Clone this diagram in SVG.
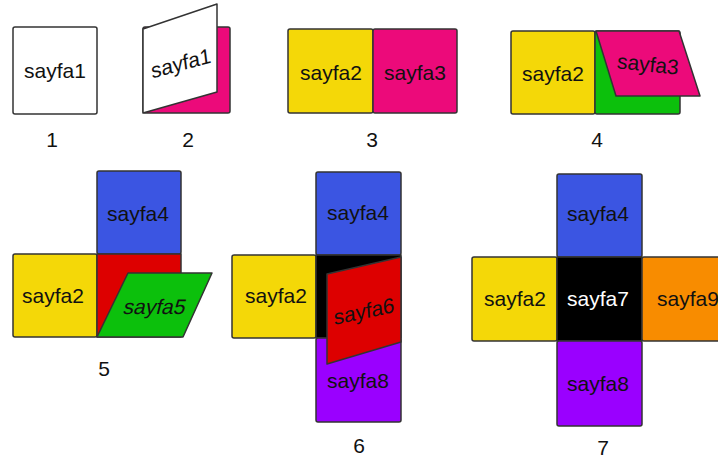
<svg xmlns="http://www.w3.org/2000/svg" width="718" height="462" viewBox="0 0 718 462">
<style>
.pg{stroke:#333;stroke-width:1.5;stroke-linejoin:round}
.t{font-family:"Liberation Sans",Arial,sans-serif;font-size:21px;fill:#111;text-anchor:middle;dominant-baseline:central}
.n{font-family:"Liberation Sans",Arial,sans-serif;font-size:21px;fill:#111;text-anchor:middle;dominant-baseline:central}
.w{fill:#fff}.y{fill:#F4D808}.p{fill:#EC0A7A}.g{fill:#0CC00C}.b{fill:#3B55E2}.r{fill:#DD0000}.v{fill:#9A00FF}.o{fill:#F88C00}.k{fill:#000}
</style>
<rect width="718" height="462" fill="#fff"/>
<g id="step1">
<rect class="pg w" x="13" y="27" width="84" height="87" rx="2"/>
<text class="t" x="55" y="70">sayfa1</text>
<text class="n" x="52" y="139">1</text>
</g>
<g id="step2">
<rect class="pg p" x="143" y="27" width="87" height="86" rx="2"/>
<polygon class="pg w" points="143,29 217,4 217,92 143,113"/>
<text class="t" transform="translate(181,63) rotate(-15) skewX(-8)">sayfa1</text>
<text class="n" x="188" y="139">2</text>
</g>
<g id="step3">
<rect class="pg y" x="288" y="29" width="85" height="84" rx="2"/>
<rect class="pg p" x="373" y="29" width="84" height="84" rx="2"/>
<text class="t" x="331" y="72">sayfa2</text>
<text class="t" x="415" y="72">sayfa3</text>
<text class="n" x="372" y="139">3</text>
</g>
<g id="step4">
<rect class="pg y" x="511" y="31" width="84" height="83" rx="2"/>
<rect class="pg g" x="595" y="31" width="85" height="83" rx="2"/>
<polygon class="pg p" points="596,31 679,31 700,96 616,96"/>
<text class="t" x="553" y="73">sayfa2</text>
<text class="t" transform="translate(648,64) rotate(6)">sayfa3</text>
<text class="n" x="597" y="139">4</text>
</g>
<g id="step5">
<rect class="pg b" x="97" y="171" width="84" height="83" rx="2"/>
<rect class="pg y" x="13" y="254" width="84" height="83" rx="2"/>
<rect class="pg r" x="97" y="254" width="84" height="83"/>
<polygon class="pg g" points="128,273 212,273 183,337 97,337"/>
<text class="t" x="138" y="213">sayfa4</text>
<text class="t" x="53" y="295">sayfa2</text>
<text class="t" transform="translate(155,307) skewX(-14)">sayfa5</text>
<text class="n" x="104" y="368">5</text>
</g>
<g id="step6">
<rect class="pg b" x="316" y="172" width="85" height="83" rx="2"/>
<rect class="pg y" x="232" y="255" width="84" height="83" rx="2"/>
<rect class="pg k" x="316" y="255" width="85" height="83"/>
<rect class="pg v" x="316" y="338" width="85" height="84" rx="2"/>
<polygon class="pg r" points="327,274 401,257 401,342 327,364"/>
<text class="t" x="358" y="212">sayfa4</text>
<text class="t" x="276" y="295">sayfa2</text>
<text class="t" transform="translate(364,311) rotate(-12) skewX(-8)">sayfa6</text>
<text class="t" x="358" y="380">sayfa8</text>
<text class="n" x="359" y="445">6</text>
</g>
<g id="step7">
<rect class="pg b" x="557" y="174" width="85" height="83" rx="2"/>
<rect class="pg y" x="472" y="257" width="85" height="84" rx="2"/>
<rect class="pg k" x="557" y="257" width="85" height="84"/>
<rect class="pg o" x="642" y="257" width="85" height="84" rx="2"/>
<rect class="pg v" x="557" y="341" width="85" height="85" rx="2"/>
<text class="t" x="598" y="213">sayfa4</text>
<text class="t" x="515" y="298">sayfa2</text>
<text class="t" x="598" y="298" style="fill:#fff">sayfa7</text>
<text class="t" x="688" y="298">sayfa9</text>
<text class="t" x="598" y="383">sayfa8</text>
<text class="n" x="603" y="447">7</text>
</g>
</svg>
